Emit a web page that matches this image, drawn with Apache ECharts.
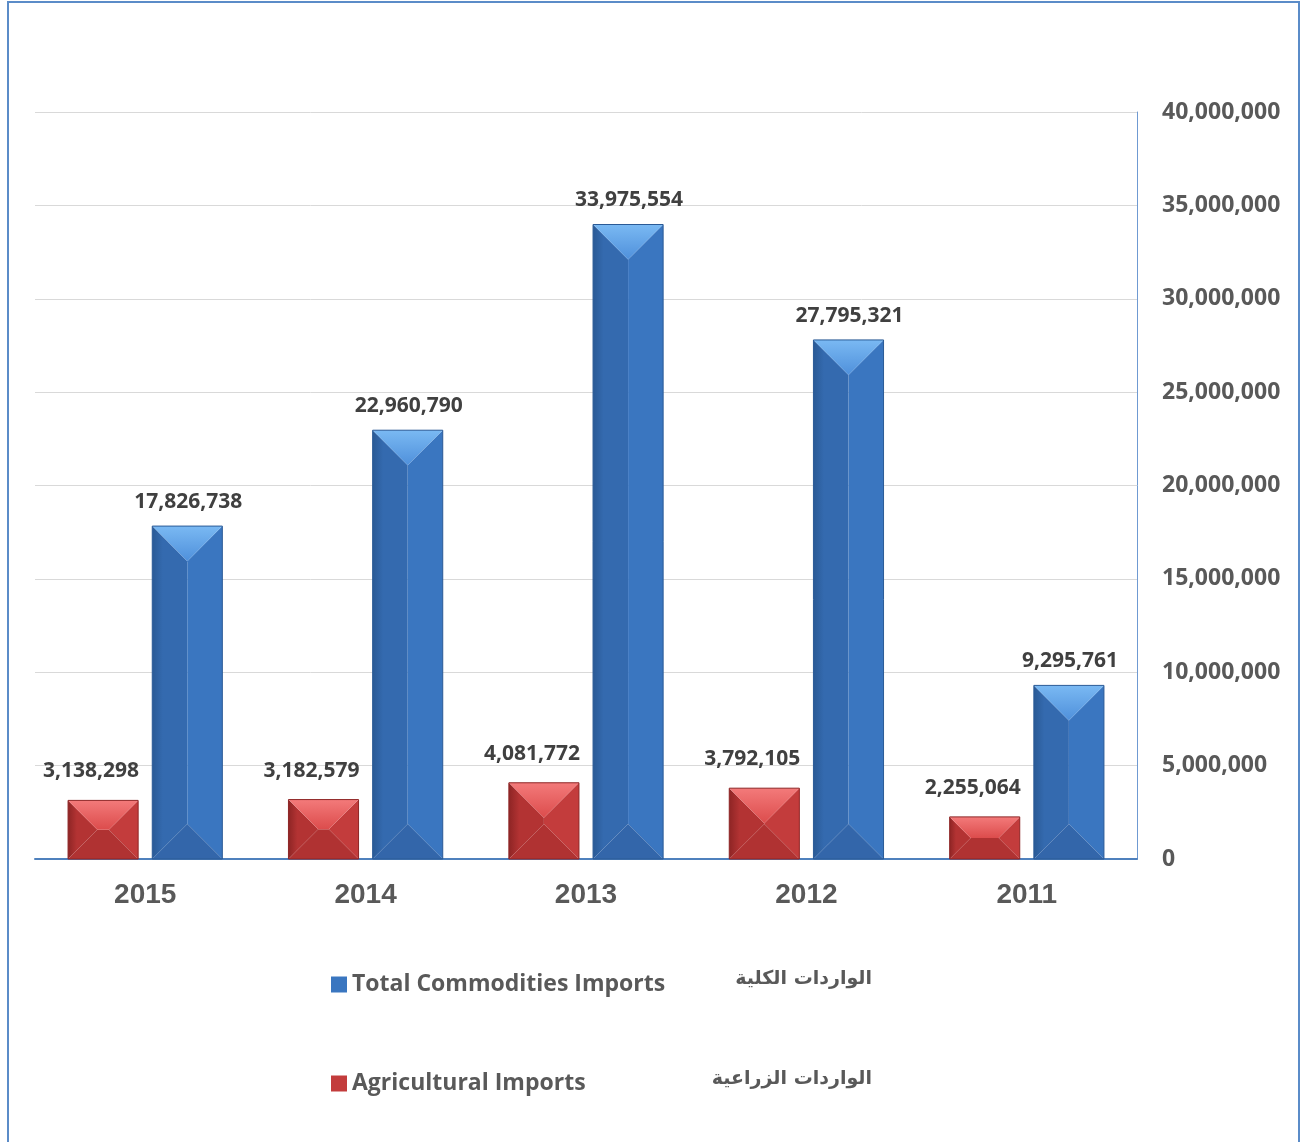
<!DOCTYPE html>
<html>
<head>
<meta charset="utf-8">
<script src="https://cdn.jsdelivr.net/npm/echarts@6/dist/echarts.min.js"></script>
<style>
  html, body { margin: 0; padding: 0; background: #fff; }
  #chart { width: 1311px; height: 1142px; }
</style>
</head>
<body>
<div id="chart"></div>
<script>
const years = ['2015', '2014', '2013', '2012', '2011'];
const agriculturalImports = [3138298, 3182579, 4081772, 3792105, 2255064];
const totalImports = [17826738, 22960790, 33975554, 27795321, 9295761];
const yTicks = { min: 0, max: 40000000, interval: 5000000 };

const legendNames = ['Total Commodities Imports', 'Agricultural Imports'];
const arabicNames = ['الواردات الكلية', 'الواردات الزراعية'];

// face colours for the bevelled bars: top, left, right, bottom, outline
const palette = {
  red: { top: ['#f37a7a', '#dc4c4c'], left: '#b33333', right: '#c33c3c', bottom: '#b03232', line: '#8e2525', label: -12, lift: 29 },
  blue: { top: ['#7ab9f3', '#4f90db'], left: '#346aaf', right: '#3a76c0', bottom: '#3366aa', line: '#2a5a96', label: 1, lift: 24 },
};

const fmt = (v) => v.toLocaleString('en-US');

function bevelBar(colors, side) {
  return function renderItem(params, api) {
    const idx = api.value(0);
    const val = api.value(1);
    const top = api.coord([idx, val]);
    const base = api.coord([idx, 0]);
    const band = api.size([1, 0])[0];
    const w = band * 0.318;
    const gap = band * 0.064;
    const cx = top[0] + side * (w + gap) / 2;
    const x0 = cx - w / 2;
    const x1 = cx + w / 2;
    const y0 = top[1];
    const y1 = base[1];
    const b = Math.min(w / 2, (y1 - y0) / 2);
    const poly = (points, fill) => ({ type: 'polygon', shape: { points }, style: { fill } });
    return {
      type: 'group',
      children: [
        poly([[x0, y0], [x0 + b, y0 + b], [x0 + b, y1 - b], [x0, y1]], new echarts.graphic.LinearGradient(0, 0, 1, 0, [
          { offset: 0, color: colors.line }, { offset: 0.3, color: colors.left }, { offset: 1, color: colors.left },
        ])),
        poly([[x1, y0], [x1 - b, y0 + b], [x1 - b, y1 - b], [x1, y1]], colors.right),
        { type: 'rect', shape: { x: x0 + b, y: y0 + b, width: Math.max(0, w - 2 * b), height: Math.max(0, y1 - y0 - 2 * b) }, style: { fill: colors.right } },
        poly([[x0, y1], [x1, y1], [x1 - b, y1 - b], [x0 + b, y1 - b]], colors.bottom),
        poly([[x0, y0], [x1, y0], [x1 - b, y0 + b], [x0 + b, y0 + b]], new echarts.graphic.LinearGradient(0, 0, 0, 1, [
          { offset: 0, color: colors.top[0] }, { offset: 1, color: colors.top[1] },
        ])),
        { type: 'rect', shape: { x: x0, y: y0, width: w, height: y1 - y0 }, style: { fill: 'none', stroke: colors.line, lineWidth: 1 } },
        {
          type: 'text',
          style: {
            text: fmt(val), x: cx + colors.label, y: y0 - colors.lift,
            align: 'center', verticalAlign: 'middle',
            font: 'bold 21px "Open Sans"', fill: '#404040',
          },
        },
      ],
    };
  };
}

const legendText = { fontFamily: 'Open Sans', fontWeight: 'bold', fontSize: 23, color: '#595959' };

const chart = echarts.init(document.getElementById('chart'));

chart.setOption({
  animation: false,
  backgroundColor: '#fff',
  grid: { left: 35, right: 174, top: 112, bottom: 283 },
  legend: [
    {
      data: [{ name: legendNames[0], itemStyle: { color: '#3a76c0' } }],
      left: 326, top: 968, icon: 'rect', itemWidth: 16, itemHeight: 16, itemGap: 8,
      textStyle: legendText,
    },
    {
      data: [{ name: legendNames[1], itemStyle: { color: '#c33c3c' } }],
      left: 326, top: 1067, icon: 'rect', itemWidth: 16, itemHeight: 16, itemGap: 8,
      textStyle: legendText,
    },
  ],
  graphic: [
    { type: 'rect', shape: { x: 8, y: 2, width: 1291, height: 1160 }, style: { fill: 'none', stroke: '#5b8cc8', lineWidth: 2 }, silent: true },
    { type: 'text', x: 872, y: 979, style: { text: arabicNames[0], align: 'right', verticalAlign: 'middle', font: 'bold 19px "DejaVu Sans"', fill: '#595959' } },
    { type: 'text', x: 872, y: 1079, style: { text: arabicNames[1], align: 'right', verticalAlign: 'middle', font: 'bold 19px "DejaVu Sans"', fill: '#595959' } },
  ],
  xAxis: {
    type: 'category',
    data: years,
    axisLine: { lineStyle: { color: '#4f81bd', width: 2 } },
    axisTick: { show: false },
    axisLabel: { margin: 22, fontFamily: 'Liberation Sans', fontWeight: 'bold', fontSize: 28, color: '#595959' },
  },
  yAxis: {
    type: 'value',
    position: 'right',
    min: yTicks.min,
    max: yTicks.max,
    interval: yTicks.interval,
    axisLine: { show: true, lineStyle: { color: '#6f9ad2', width: 1 } },
    axisTick: { show: false },
    splitLine: { lineStyle: { color: '#d9d9d9', width: 1 } },
    axisLabel: {
      margin: 25, fontFamily: 'Open Sans', fontWeight: 'bold', fontSize: 23, color: '#595959',
      formatter: (v) => fmt(v),
    },
  },
  series: [
    {
      name: legendNames[1],
      type: 'custom',
      renderItem: bevelBar(palette.red, -1),
      encode: { x: 0, y: 1 },
      itemStyle: { color: '#c33c3c' },
      data: agriculturalImports.map((v, i) => [i, v]),
      z: 3,
    },
    {
      name: legendNames[0],
      type: 'custom',
      renderItem: bevelBar(palette.blue, 1),
      encode: { x: 0, y: 1 },
      itemStyle: { color: '#3a76c0' },
      data: totalImports.map((v, i) => [i, v]),
      z: 3,
    },
  ],
});
</script>
</body>
</html>
